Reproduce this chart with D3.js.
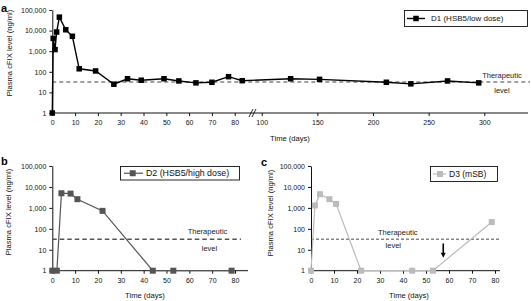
<!DOCTYPE html>
<html><head><meta charset="utf-8">
<script src="https://cdn.jsdelivr.net/npm/d3@7"></script>
<style>body{margin:0;background:#fff}svg{display:block;font-family:"Liberation Sans",Arial,sans-serif}</style>
</head><body>
<svg id="c" width="531" height="301"></svg>
<script>
// ---- data ----
const yTicks = [1, 10, 100, 1000, 10000, 100000];
const threshold = 32;

const d1Days   = [0, 0.4, 1.2, 1.9, 3.1, 5.9, 8.8, 11.8, 19, 27, 33, 39, 49, 55.5, 63, 70, 77.3, 83.3, 126, 152, 212, 234, 267, 295];
const d1Values = [1, 4200, 1200, 8500, 45000, 11000, 5300, 140, 110, 25, 46, 39, 46, 36, 29, 31, 58, 37, 46, 43, 31, 26, 36, 29];
const aTicks   = [0, 10, 20, 30, 40, 50, 60, 70, 80, 100, 150, 200, 250, 300];

const d2Days   = [0, 2, 4, 8, 11, 22, 44, 53, 78.5];
const d2Values = [1, 1, 5000, 4800, 2600, 720, 1, 1, 1];

const d3Days   = [0, 1.7, 3.9, 8, 10.9, 21.8, 44, 53, 78.6];
const d3Values = [1, 1300, 4500, 2600, 1550, 1, 1, 1, 210];
const bcTicks  = [0, 10, 20, 30, 40, 50, 60, 70, 80];
const arrowDay = 57.5, arrowFrom = 20, arrowTo = 4.2;

const svg = d3.select("#c");
const fmt = d3.format(",");
const F = '"Liberation Sans",Arial,sans-serif';

function panel(o) {
  const g = svg.append("g");
  const x = o.x, y = o.y;
  // y axis
  const ya = g.append("g").attr("transform", `translate(${o.x0},0)`)
    .call(d3.axisLeft(y).tickValues(yTicks).tickFormat(fmt).tickSize(3).tickSizeOuter(0).tickPadding(3));
  ya.selectAll("text").attr("font-size", 7).attr("font-family", F).attr("fill", "#111");
  ya.selectAll("line,path").attr("stroke", "#111");
  // x axis
  const xa = g.append("g").attr("transform", `translate(0,${y(1)})`)
    .call(d3.axisBottom(x).tickValues(o.ticks).tickSize(3).tickSizeOuter(0).tickPadding(4));
  xa.select(".domain").remove();
  xa.append("line").attr("x1", o.x0).attr("x2", o.xEnd).attr("stroke", "#111");
  xa.selectAll("text").attr("font-size", 7).attr("font-family", F).attr("fill", "#111");
  xa.selectAll(".tick line").attr("stroke", "#111");
  // threshold
  g.append("line").attr("x1", o.x0).attr("x2", o.dashEnd)
    .attr("y1", y(threshold)).attr("y2", y(threshold))
    .attr("stroke", o.dashColor).attr("stroke-width", o.dashW).attr("stroke-dasharray", o.dash);
  g.append("text").attr("x", o.thX).attr("y", o.thY1).attr("text-anchor", "middle")
    .attr("dominant-baseline", "central").attr("font-size", 7.5).attr("fill", "#222").text("Therapeutic");
  g.append("text").attr("x", o.lvX).attr("y", o.thY2).attr("text-anchor", "middle")
    .attr("dominant-baseline", "central").attr("font-size", 7.5).attr("fill", "#222").text("level");
  // series
  const pts = o.days.map((d, i) => [d, o.vals[i]]);
  g.append("path").datum(pts)
    .attr("d", d3.line().x(d => x(d[0])).y(d => y(d[1])))
    .attr("fill", "none").attr("stroke", o.color).attr("stroke-width", o.lw);
  g.selectAll("rect.m").data(pts).join("rect")
    .attr("x", d => x(d[0]) - o.ms / 2).attr("y", d => y(d[1]) - o.ms / 2)
    .attr("width", o.ms).attr("height", o.ms).attr("fill", o.mColor);
  // labels
  g.append("text").attr("transform", `translate(${o.ylX},${o.ylY}) rotate(-90)`)
    .attr("text-anchor", "middle").attr("dominant-baseline", "central")
    .attr("font-size", 7.6).attr("fill", "#111").text("Plasma cFIX level (ng/ml)");
  g.append("text").attr("x", o.xlX).attr("y", o.xlY).attr("text-anchor", "middle")
    .attr("dominant-baseline", "central").attr("font-size", 7.6).attr("fill", "#111").text("Time (days)");
  g.append("text").attr("x", o.letterX).attr("y", o.letterY).attr("font-size", 11)
    .attr("font-weight", "bold").attr("fill", "#000").text(o.letter);
  // legend
  const L = o.leg;
  g.append("rect").attr("x", L.x).attr("y", L.y).attr("width", L.w).attr("height", L.h)
    .attr("fill", "#fff").attr("stroke", "#111").attr("stroke-width", 0.9);
  g.append("line").attr("x1", L.l1).attr("x2", L.l2).attr("y1", L.y + L.h / 2).attr("y2", L.y + L.h / 2)
    .attr("stroke", o.color).attr("stroke-width", o.lw);
  g.append("rect").attr("x", L.m - o.ms / 2).attr("y", L.y + L.h / 2 - o.ms / 2)
    .attr("width", o.ms).attr("height", o.ms).attr("fill", o.mColor);
  g.append("text").attr("x", L.tx).attr("y", L.y + L.h / 2).attr("dominant-baseline", "central")
    .attr("font-size", L.fs).attr("fill", "#111").text(L.text);
  return g;
}

// panel a
const xA = d3.scaleLinear().domain([0, 87.5, 92, 339]).range([52.3, 251.8, 252.8, 527.7]);
const yA = d3.scaleLog().domain([1, 100000]).range([113, 10]);
const gA = panel({x: xA, y: yA, x0: 52.3, xEnd: 528, ticks: aTicks, dashEnd: 530,
  dashColor: "#444", dashW: 1.2, dash: "4,3", thX: 502, thY1: 75, lvX: 502, thY2: 90,
  days: d1Days, vals: d1Values, color: "#000", mColor: "#000", lw: 1.4, ms: 5.5,
  ylX: 9, ylY: 53, xlX: 290, xlY: 138, letter: "a", letterX: 1, letterY: 12,
  leg: {x: 404.5, y: 10.5, w: 123, h: 16, l1: 407, l2: 425, m: 416, tx: 431, fs: 8, text: "D1 (HSB5/low dose)"}});
// break mark
[0, 3].forEach(dx => gA.append("line").attr("x1", 249 + dx).attr("x2", 253 + dx)
  .attr("y1", yA(1) + 4).attr("y2", yA(1) - 4).attr("stroke", "#111").attr("stroke-width", 0.9));

// panel b
const yB = d3.scaleLog().domain([1, 100000]).range([270.7, 166]);
const xB = d3.scaleLinear().domain([0, 80]).range([52.3, 235]);
panel({x: xB, y: yB, x0: 52.3, xEnd: 248, ticks: bcTicks, dashEnd: 241,
  dashColor: "#555", dashW: 1.4, dash: "4.5,3", thX: 207.5, thY1: 231, lvX: 209.5, thY2: 248.3,
  days: d2Days, vals: d2Values, color: "#555", mColor: "#555", lw: 1.2, ms: 6,
  ylX: 8, ylY: 212, xlX: 145, xlY: 295, letter: "b", letterX: 1, letterY: 165,
  leg: {x: 120.5, y: 166.5, w: 119, h: 13.5, l1: 124, l2: 143, m: 132.7, tx: 146, fs: 8.8, text: "D2 (HSB5/high dose)"}});

// panel c
const xC = d3.scaleLinear().domain([0, 80]).range([311, 495]);
const gC = panel({x: xC, y: yB, x0: 311, xEnd: 500, ticks: bcTicks, dashEnd: 500,
  dashColor: "#333", dashW: 0.9, dash: "3,2", thX: 397.8, thY1: 232.7, lvX: 393.3, thY2: 245.7,
  days: d3Days, vals: d3Values, color: "#bbb", mColor: "#bbb", lw: 1.2, ms: 6,
  ylX: 270, ylY: 213, xlX: 409, xlY: 295, letter: "c", letterX: 261, letterY: 166,
  leg: {x: 430.5, y: 166.5, w: 67, h: 15, l1: 433, l2: 446, m: 440, tx: 449, fs: 8.5, text: "D3 (mSB)"}});
// arrow
const ax = xC(arrowDay), ay1 = yB(arrowFrom), ay2 = yB(arrowTo);
gC.append("line").attr("x1", ax).attr("x2", ax).attr("y1", ay1).attr("y2", ay2 - 4)
  .attr("stroke", "#000").attr("stroke-width", 1.6);
gC.append("path").attr("d", `M${ax - 2.5},${ay2 - 5}L${ax + 2.5},${ay2 - 5}L${ax},${ay2}Z`).attr("fill", "#000");
</script>
</body></html>
